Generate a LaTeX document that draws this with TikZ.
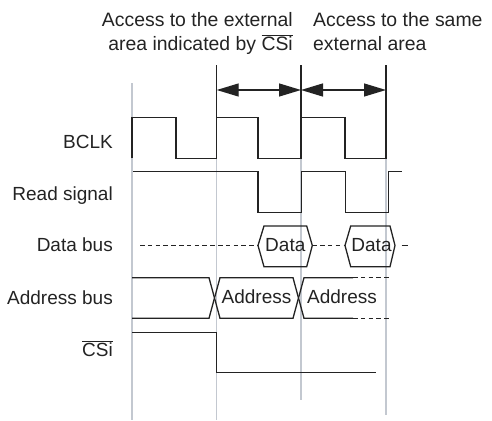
\documentclass[tikz,border=0pt]{standalone}
\usepackage{fontspec}
\setmainfont{Liberation Sans}
\usetikzlibrary{arrows.meta}
\definecolor{gridc}{RGB}{195,200,208}
\definecolor{sigc}{RGB}{35,35,35}
\begin{document}
\begin{tikzpicture}[x=1pt,y=-1pt,
  sig/.style={line width=1.3pt,draw=sigc,line join=miter},
  gridline/.style={line width=1.1pt,draw=gridc},
  dashsig/.style={sig,dash pattern=on 4.5pt off 3.3pt},
  lab/.style={anchor=base east,inner sep=0pt,font=\fontsize{19}{23}\selectfont,text=sigc},
  intext/.style={anchor=base,inner sep=0pt,font=\fontsize{19}{23}\selectfont,text=sigc},
  head/.style={inner sep=0pt,font=\fontsize{19.4}{23.5}\selectfont,text=sigc},
  span/.style={line width=1.3pt,draw=sigc,{Triangle[length=22pt,width=13pt]}-{Triangle[length=22pt,width=13pt]}}
]
\useasboundingbox (0,0) rectangle (492,420);

% grid lines
\draw[gridline] (132,83) -- (132,420);
\draw[gridline] (216.7,117) -- (216.7,420);
\draw[gridline] (301,117) -- (301,400);
\draw[gridline] (386,158) -- (386,415);

% headings
\node[head,anchor=east,align=right] (h1) at (293,33.5)
  {Access to the external\\area indicated by $\overline{\mbox{CSi}}$};
\node[head,anchor=west,align=left] (h2) at (313,31.6)
  {Access to the same\\external area};

% markers and spans
\coordinate (m1t) at (216.7,65);
\coordinate (m1b) at (216.7,117.3);
\coordinate (m2t) at (301,65);
\coordinate (m2b) at (301,117.3);
\draw[sig] (m1t) -- (m1b);
\draw[sig] (m2t) -- (m2b);
\coordinate (a1) at (216.7,90);
\coordinate (a2) at (301,90);
\coordinate (a3) at (386,90);
\draw[span] (a1) -- (a2);
\draw[span] (a2) -- (a3);

% labels
\node[lab] (lbclk) at (113,148.3) {BCLK};
\node[lab] (lread) at (113,200.7) {Read signal};
\node[lab] (ldata) at (113,251.7) {Data bus};
\node[lab] (laddr) at (113,304) {Address bus};
\node[lab] (lcs) at (113,356) {$\overline{\mbox{CSi}}$};

% BCLK
\draw[sig] (132,158.3) -- (132,117.3) -- (176,117.3) -- (176,158.3) -- (216.7,158.3)
  -- (216.7,117.3) -- (258,117.3) -- (258,158.3) -- (301,158.3) -- (301,117.3)
  -- (345,117.3) -- (345,158.3) -- (386,158.3) -- (386,65);

% Read signal
\draw[sig] (133,171.7) -- (258,171.7) -- (258,212.7) -- (301.5,212.7) -- (301.5,171.7)
  -- (345.7,171.7) -- (345.7,212.7) -- (388.3,212.7) -- (388.3,171.7) -- (401.7,171.7);

% Data bus
\draw[dashsig] (140,245.3) -- (258,245.3);
\draw[sig] (258,245.5) -- (264,226) -- (306.7,226) -- (312.3,245.5) -- (306.7,266.7) -- (264,266.7) -- cycle;
\node[intext] (d1) at (285.3,251.7) {Data};
\draw[dashsig] (312.3,245.3) -- (345,245.3);
\draw[sig] (345,245.5) -- (350.7,226) -- (390,226) -- (395,245.5) -- (390,266.7) -- (350.7,266.7) -- cycle;
\node[intext] (d2) at (371.5,251.7) {Data};
\draw[sig] (401.5,245.3) -- (408,245.3);

% Address bus
\draw[sig] (132,277.7) -- (209,277.7) -- (220,318.3) -- (293,318.3) -- (304,277.7) -- (353,277.7);
\draw[sig] (132,318.3) -- (209,318.3) -- (220,277.7) -- (293,277.7) -- (304,318.3) -- (353,318.3);
\draw[dashsig] (353,277.7) -- (390,277.7);
\draw[dashsig] (353,318.3) -- (390,318.3);
\node[intext] (ad1) at (256.5,303.3) {Address};
\node[intext] (ad2) at (342,303.3) {Address};

% CSi
\draw[sig] (132,332.7) -- (216.7,332.7) -- (216.7,372.7) -- (376,372.7);
\end{tikzpicture}
\end{document}
